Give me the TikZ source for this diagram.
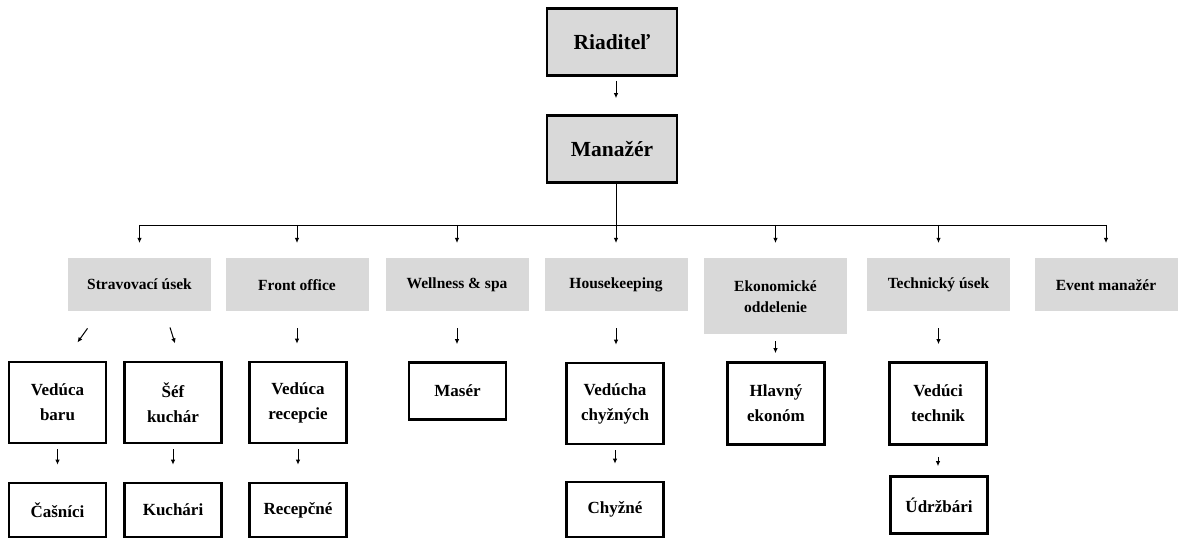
\documentclass[tikz,border=0pt]{standalone}
\usepackage{fontspec}
\setmainfont{Liberation Serif}
\usetikzlibrary{arrows.meta}
\definecolor{boxgray}{HTML}{D9D9D9}
\tikzset{
    headbox/.style={draw, fill=boxgray, line width=2.6pt, minimum width=130pt, minimum height=67pt, inner sep=0pt, font=\fontsize{21.5}{26}\selectfont\bfseries},
    deptbox/.style={fill=boxgray, anchor=north, minimum width=143pt, minimum height=53pt, inner sep=0pt, align=center, font=\fontsize{15.5}{21}\selectfont\bfseries},
    staffbox/.style={draw, line width=2.6pt, minimum width=97pt, inner sep=0pt, align=center, font=\fontsize{17}{25}\selectfont\bfseries},
    arr/.style={line width=1pt, -{Latex[length=5pt,width=4.5pt]}}
}
\begin{document}
\begin{tikzpicture}[x=1pt,y=-1pt]
                \useasboundingbox (0,0) rectangle (1178,540);
                \node[headbox] (riad) at (612,42) {Riaditeľ};
                \node[headbox] (man) at (612,149) {Manažér};
                \draw[arr, shorten <=4pt, shorten >=16pt] ([xshift=4pt]riad.south) -- ([xshift=4pt]man.north);
                \node[deptbox] (strav) at (139.5,258) {Stravovací úsek};
                \node[deptbox] (front) at (297,258) {Front office};
                \node[deptbox] (well) at (457,258) {Wellness \& spa};
                \node[deptbox] (house) at (616,258) {Housekeeping};
                \node[deptbox, minimum height=76pt] (ekon) at (775.5,258) {Ekonomické\\oddelenie};
                \node[deptbox] (tech) at (938.5,258) {Technický úsek};
                \node[deptbox] (event) at (1106,258) {Event manažér};
                \coordinate (bar) at (616,225);
                \draw[line width=0.9pt] ([xshift=4pt]man.south) -- (bar);
                \draw[line width=0.9pt] (strav.north |- bar) -- (event.north |- bar);
                \foreach \d in {strav,front,well,house,ekon,tech,event}
                    \draw[arr] (\d.north |- bar) -- ([yshift=15pt]\d.north);
                \node[staffbox, minimum height=81pt] (vbaru) at (57.5,402.5) {Vedúca\\baru};
                \node[staffbox, minimum height=81pt] (sef) at (173,402.5) {Šéf\\kuchár};
                \node[staffbox, minimum height=81pt] (vrec) at (298,402.5) {Vedúca\\recepcie};
                \node[staffbox, minimum height=57pt] (maser) at (457.5,391) {Masér};
                \node[staffbox, minimum height=81pt] (vchyz) at (615,403.5) {Vedúcha\\chyžných};
                \node[staffbox, minimum height=82pt] (hlav) at (776,403.5) {Hlavný\\ekonóm};
                \node[staffbox, minimum height=82pt] (vtech) at (938,403.5) {Vedúci\\technik};
                \node[staffbox, minimum height=54pt] (cas) at (57.5,510) {Čašníci};
                \node[staffbox, minimum height=54pt] (kuch) at (173,510) {Kuchári};
                \node[staffbox, minimum height=54pt] (recep) at (298,510) {Recepčné};
                \node[staffbox, minimum height=55pt] (chyz) at (615,509.5) {Chyžné};
                \node[staffbox, minimum height=57pt] (udrz) at (939,505) {Údržbári};
                \draw[arr] ([xshift=-52pt,yshift=-17pt]strav.south) -- ([xshift=-62pt,yshift=-31pt]strav.south);
                \draw[arr] ([xshift=30.5pt,yshift=-16pt]strav.south) -- ([xshift=35.5pt,yshift=-32pt]strav.south);
                \foreach \a/\b in {front/vrec,well/maser,house/vchyz,tech/vtech}
                    \draw[arr, shorten <=17pt, shorten >=17pt] (\a.south) -- (\a.south |- \b.north);
                \draw[arr, shorten <=7pt, shorten >=8pt] (ekon.south) -- (ekon.south |- hlav.north);
                \foreach \a/\b in {vbaru/cas,sef/kuch,vrec/recep,vchyz/chyz}
                    \draw[arr, shorten <=5pt, shorten >=17pt] (\a.south) -- (\b.north);
                \draw[arr, shorten <=11pt, shorten >=9pt] (vtech.south) -- (vtech.south |- udrz.north);
            \end{tikzpicture}
\end{document}
